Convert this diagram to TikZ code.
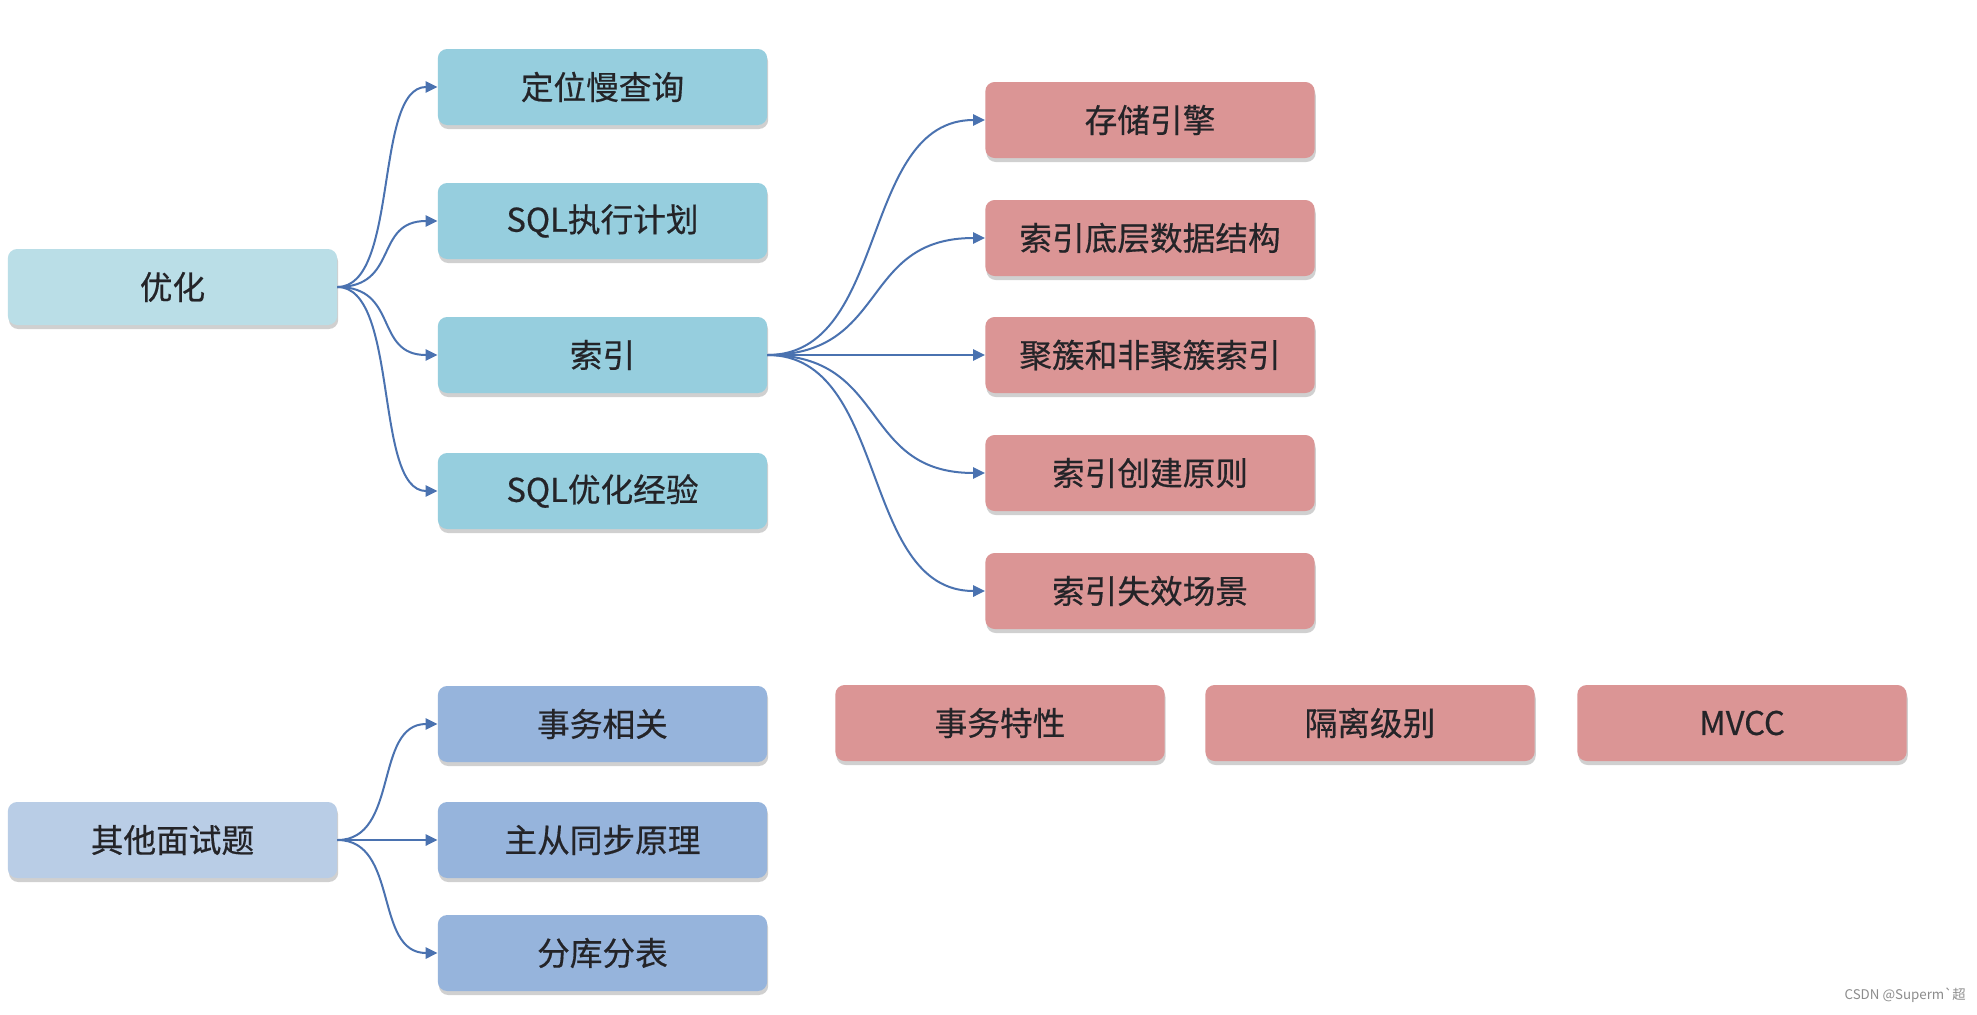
\documentclass[tikz,border=0pt]{standalone}
\usepackage{fontspec}
\setmainfont{Noto Sans CJK SC}[FakeBold=0.5]
\newfontfamily\wmfont{Noto Sans CJK SC}
\usetikzlibrary{shadows,arrows.meta}
\definecolor{rootA}{RGB}{186,222,231}
\definecolor{rootB}{RGB}{185,205,230}
\definecolor{tealbox}{RGB}{150,206,222}
\definecolor{redbox}{RGB}{219,149,149}
\definecolor{bluebox}{RGB}{150,180,220}
\definecolor{linec}{RGB}{74,114,176}
\definecolor{txt}{RGB}{36,36,40}
\tikzset{
  box/.style={rectangle, rounded corners=7pt, minimum width=247pt, minimum height=57pt,
    inner sep=0pt, font=\fontsize{24.5}{28}\selectfont, text=txt,
    drop shadow={shadow xshift=0.8pt, shadow yshift=-3pt, fill=black!60, opacity=0.3}},
  rootbox/.style={box, fill=rootA},
  rootboxb/.style={box, fill=rootB},
  tbox/.style={box, fill=tealbox},
  rbox/.style={box, fill=redbox},
  bbox/.style={box, fill=bluebox},
  conn/.style={draw=linec, line width=1.5pt, -{Triangle[length=9pt,width=8.5pt]}}
}
\begin{document}
\begin{tikzpicture}[x=0.75pt,y=-0.75pt]
\fill[white] (0,0) rectangle (1977,1014);
\useasboundingbox (0,0) rectangle (1977,1014);
% root nodes
\node[rootbox]  (yh) at (172.5,287) {优化};
\node[rootboxb] (qt) at (172.5,840) {其他面试题};
% column 2
\node[tbox] (dw) at (602.5,87)  {定位慢查询};
\node[tbox] (zx) at (602.5,221) {SQL执行计划};
\node[tbox] (sy) at (602.5,355) {索引};
\node[tbox] (yy) at (602.5,491) {SQL优化经验};
\node[bbox] (sw) at (602.5,724) {事务相关};
\node[bbox] (zc) at (602.5,840) {主从同步原理};
\node[bbox] (fk) at (602.5,953) {分库分表};
% index column
\node[rbox] (cc) at (1150,120) {存储引擎};
\node[rbox] (dc) at (1150,238) {索引底层数据结构};
\node[rbox] (jc) at (1150,355) {聚簇和非聚簇索引};
\node[rbox] (cj) at (1150,473) {索引创建原则};
\node[rbox] (sx) at (1150,591) {索引失效场景};
% transaction row
\node[rbox] (tx) at (1000,723) {事务特性};
\node[rbox] (gl) at (1370,723) {隔离级别};
\node[rbox] (mv) at (1742,723) {MVCC};
% connectors from 优化
\foreach \t in {dw,zx,sy,yy}
  \draw[conn] (yh.east) .. controls +(62,0) and +(-64,0) .. (\t.west);
% connectors from 索引
\foreach \t in {cc,dc,cj,sx}
  \draw[conn] (sy.east) .. controls +(122,0) and +(-126,0) .. (\t.west);
\draw[conn] (sy.east) -- (jc.west);
% connectors from 其他面试题
\foreach \t in {sw,fk}
  \draw[conn] (qt.east) .. controls +(62,0) and +(-64,0) .. (\t.west);
\draw[conn] (qt.east) -- (zc.west);
% watermark
\node[anchor=east, text=black!45, font=\wmfont\fontsize{10}{12}\selectfont, inner sep=0pt] (wm) at (1966,995) {CSDN @Superm\symbol{96}超};
\end{tikzpicture}
\end{document}
